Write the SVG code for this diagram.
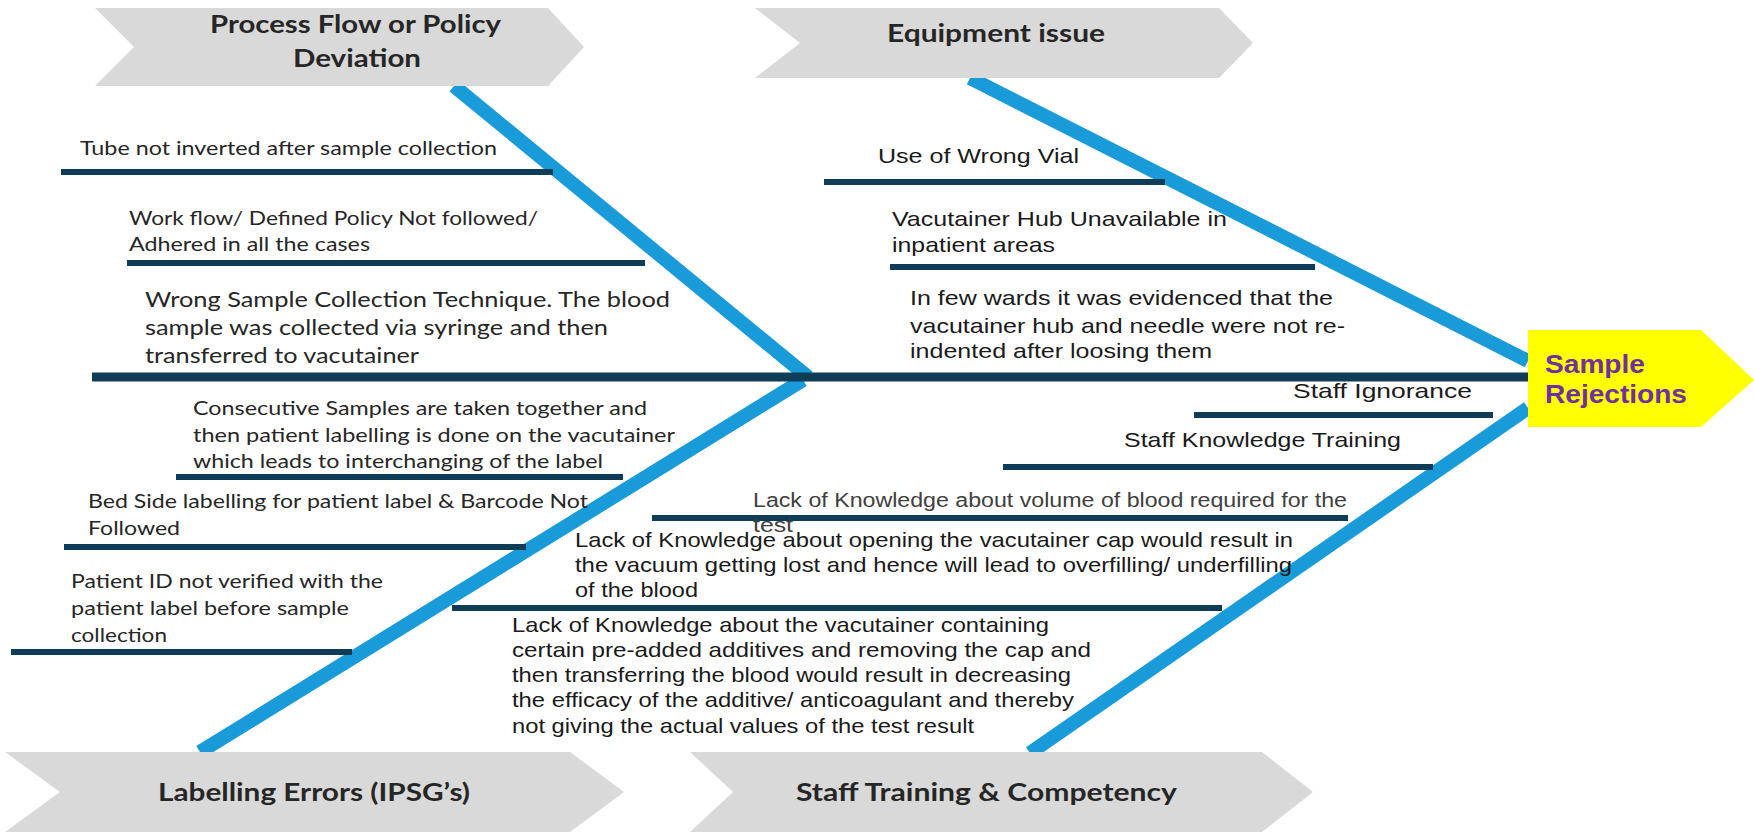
<svg xmlns="http://www.w3.org/2000/svg" width="1754" height="832" viewBox="0 0 1754 832">
<style>
.hd{fill:#d9d9d9}
.ht{font-family:Lato,"Liberation Sans",sans-serif;font-weight:bold;font-size:25px;fill:#262626}
.bone{stroke:#1a9bd9;stroke-width:14;fill:none}
.spine{stroke:#0f3c57;stroke-width:9}
.cl{stroke:#0f3c57;stroke-width:6}
.cal{font-family:Lato,"Liberation Sans",sans-serif;font-size:20px;fill:#262626}
.calb{font-family:Lato,"Liberation Sans",sans-serif;font-size:21.5px;fill:#262626}
.ar{font-family:"Liberation Sans",Arial,sans-serif;font-size:21px;fill:#1a1a1a}
.arl{font-family:"Liberation Sans",Arial,sans-serif;font-size:20px;fill:#404040}
.eff{font-family:"Liberation Sans",Arial,sans-serif;font-weight:bold;font-size:26px;fill:#7030a0}
</style>
<rect width="1754" height="832" fill="#ffffff"/>
<g id="connectors">
<line class="bone" x1="454" y1="86" x2="808" y2="377"/>
<line class="bone" x1="803" y1="380" x2="200" y2="752"/>
<line class="bone" x1="970" y1="78" x2="1528" y2="361"/>
<line class="bone" x1="1528" y1="408" x2="1030" y2="753"/>
<line class="spine" x1="92" y1="377" x2="1528" y2="377"/>
</g>
<g id="cat-process">
<path class="hd" d="M95,8 L548,8 L584,47 L548,86 L95,86 L134,47 Z"/>
<text class="ht" x="210" y="33" textLength="291" lengthAdjust="spacingAndGlyphs">Process Flow or Policy</text>
<text class="ht" x="293" y="67" textLength="128" lengthAdjust="spacingAndGlyphs">Deviation</text>
</g>
<g id="cat-equipment">
<path class="hd" d="M755,8 L1219,8 L1253,43 L1219,78 L755,78 L800,43 Z"/>
<text class="ht" x="887" y="42" textLength="218" lengthAdjust="spacingAndGlyphs">Equipment issue</text>
</g>
<g id="cat-labelling">
<path class="hd" d="M5,752 L570,752 L624,792 L570,832 L5,832 L60,792 Z"/>
<text class="ht" x="158" y="801" textLength="312" lengthAdjust="spacingAndGlyphs">Labelling Errors (IPSG’s)</text>
</g>
<g id="cat-staff">
<path class="hd" d="M690,752 L1262,752 L1313,792 L1262,832 L690,832 L733,792 Z"/>
<text class="ht" x="796" y="801" textLength="381" lengthAdjust="spacingAndGlyphs">Staff Training &amp; Competency</text>
</g>
<g id="effect">
<path d="M1528,330 L1701,330 L1754,380 L1701,427 L1528,427 Z" fill="#ffff00"/>
<text class="eff" x="1545" y="373" textLength="100" lengthAdjust="spacingAndGlyphs">Sample</text>
<text class="eff" x="1545" y="403" textLength="142" lengthAdjust="spacingAndGlyphs">Rejections</text>
</g>
<g id="cause-tube">
<line class="cl" x1="61" y1="172" x2="553" y2="172"/>
<text class="cal" x="80" y="155" textLength="417" lengthAdjust="spacingAndGlyphs">Tube not inverted after sample collection</text>
</g>
<g id="cause-workflow">
<line class="cl" x1="127" y1="263" x2="645" y2="263"/>
<text class="cal" x="129" y="225" textLength="409" lengthAdjust="spacingAndGlyphs">Work flow/ Defined Policy Not followed/</text>
<text class="cal" x="129" y="251" textLength="241" lengthAdjust="spacingAndGlyphs">Adhered in all the cases</text>
</g>
<g id="cause-technique">
<text class="calb" x="145" y="307" textLength="525" lengthAdjust="spacingAndGlyphs">Wrong Sample Collection Technique. The blood</text>
<text class="calb" x="145" y="335" textLength="463" lengthAdjust="spacingAndGlyphs">sample was collected via syringe and then</text>
<text class="calb" x="145" y="363" textLength="274" lengthAdjust="spacingAndGlyphs">transferred to vacutainer</text>
</g>
<g id="cause-consecutive">
<line class="cl" x1="176" y1="477" x2="623" y2="477"/>
<text class="cal" x="193" y="415" textLength="454" lengthAdjust="spacingAndGlyphs">Consecutive Samples are taken together and</text>
<text class="cal" x="193" y="442" textLength="482" lengthAdjust="spacingAndGlyphs">then patient labelling is done on the vacutainer</text>
<text class="cal" x="193" y="468" textLength="410" lengthAdjust="spacingAndGlyphs">which leads to interchanging of the label</text>
</g>
<g id="cause-bedside">
<line class="cl" x1="64" y1="547" x2="526" y2="547"/>
<text class="cal" x="88" y="508" textLength="500" lengthAdjust="spacingAndGlyphs">Bed Side labelling for patient label &amp; Barcode Not</text>
<text class="cal" x="88" y="535" textLength="92" lengthAdjust="spacingAndGlyphs">Followed</text>
</g>
<g id="cause-patientid">
<line class="cl" x1="11" y1="652" x2="352" y2="652"/>
<text class="cal" x="71" y="588" textLength="312" lengthAdjust="spacingAndGlyphs">Patient ID not verified with the</text>
<text class="cal" x="71" y="615" textLength="278" lengthAdjust="spacingAndGlyphs">patient label before sample</text>
<text class="cal" x="71" y="642" textLength="96" lengthAdjust="spacingAndGlyphs">collection</text>
</g>
<g id="cause-vial">
<line class="cl" x1="824" y1="182" x2="1165" y2="182"/>
<text class="ar" x="878" y="163" textLength="201" lengthAdjust="spacingAndGlyphs">Use of Wrong Vial</text>
</g>
<g id="cause-hub">
<line class="cl" x1="890" y1="267" x2="1315" y2="267"/>
<text class="ar" x="892" y="226" textLength="335" lengthAdjust="spacingAndGlyphs">Vacutainer Hub Unavailable  in</text>
<text class="ar" x="892" y="252" textLength="163" lengthAdjust="spacingAndGlyphs">inpatient areas</text>
</g>
<g id="cause-wards">
<text class="ar" x="910" y="305" textLength="423" lengthAdjust="spacingAndGlyphs">In few wards it was evidenced that the</text>
<text class="ar" x="910" y="333" textLength="435" lengthAdjust="spacingAndGlyphs">vacutainer hub and needle were not re-</text>
<text class="ar" x="910" y="358" textLength="302" lengthAdjust="spacingAndGlyphs">indented after loosing them</text>
</g>
<g id="cause-ignorance">
<line class="cl" x1="1194" y1="415" x2="1493" y2="415"/>
<text class="ar" x="1293" y="398" textLength="179" lengthAdjust="spacingAndGlyphs">Staff Ignorance</text>
</g>
<g id="cause-training">
<line class="cl" x1="1003" y1="467" x2="1433" y2="467"/>
<text class="ar" x="1124" y="447" textLength="277" lengthAdjust="spacingAndGlyphs">Staff Knowledge Training</text>
</g>
<g id="cause-volume">
<line class="cl" x1="652" y1="518" x2="1348" y2="518"/>
<text class="arl" x="753" y="507" textLength="594" lengthAdjust="spacingAndGlyphs">Lack of Knowledge about volume of blood required for the</text>
<text class="arl" x="753" y="532" textLength="40" lengthAdjust="spacingAndGlyphs">test</text>
</g>
<g id="cause-cap">
<line class="cl" x1="452" y1="608" x2="1222" y2="608"/>
<text class="ar" x="575" y="547" textLength="718" lengthAdjust="spacingAndGlyphs">Lack of Knowledge about opening the vacutainer cap would result in</text>
<text class="ar" x="575" y="572" textLength="717" lengthAdjust="spacingAndGlyphs">the vacuum getting lost and hence will lead to overfilling/ underfilling</text>
<text class="ar" x="575" y="597" textLength="123" lengthAdjust="spacingAndGlyphs">of the blood</text>
</g>
<g id="cause-additives">
<text class="ar" x="512" y="632" textLength="537" lengthAdjust="spacingAndGlyphs">Lack of Knowledge about the vacutainer containing</text>
<text class="ar" x="512" y="657" textLength="579" lengthAdjust="spacingAndGlyphs">certain pre-added additives  and removing the cap and</text>
<text class="ar" x="512" y="682" textLength="559" lengthAdjust="spacingAndGlyphs">then transferring the blood would result in decreasing</text>
<text class="ar" x="512" y="707" textLength="562" lengthAdjust="spacingAndGlyphs">the efficacy of the additive/ anticoagulant and thereby</text>
<text class="ar" x="512" y="733" textLength="462" lengthAdjust="spacingAndGlyphs">not giving the actual values of the test result</text>
</g>
</svg>
